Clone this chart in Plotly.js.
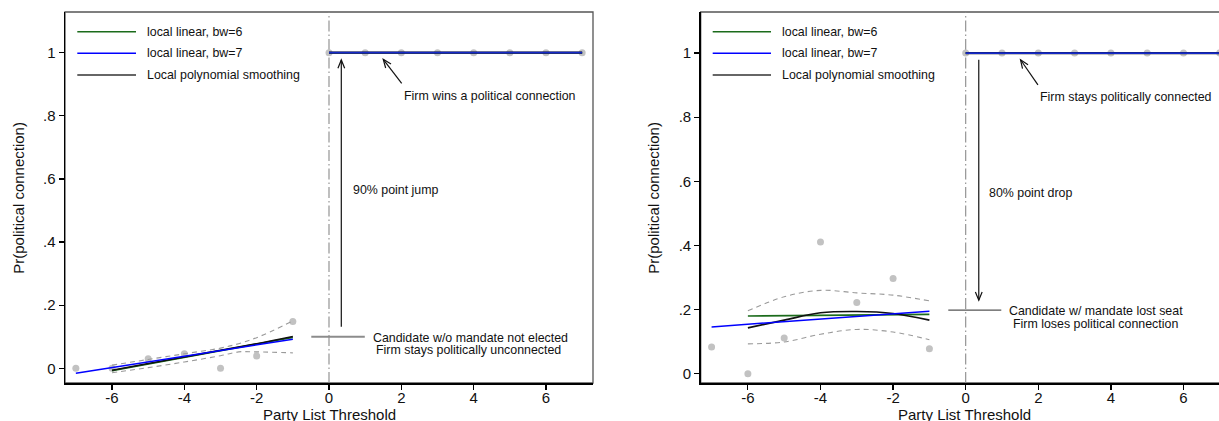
<!DOCTYPE html>
<html>
<head>
<meta charset="utf-8">
<script src="https://cdn.plot.ly/plotly-3.0.1.min.js"></script>
<style>
html,body{margin:0;padding:0;overflow:hidden;background:#fff;}
#chart{width:1240px;height:421px;}
</style>
</head>
<body>
<div id="chart"></div>
<script>
// ---------- data ----------
const xBelow = [-7, -6, -5, -4, -3, -2, -1];
const xAbove = [0, 1, 2, 3, 4, 5, 6, 7];
const xPoly = [-6, -5, -4, -3, -2, -1];
const xCI1 = [-6, -5, -4, -3, -2.5, -2, -1];
const xCI2 = [-6, -5, -4, -3, -2, -1];

// Panel 1: winning a connection
const p1Below = [0, 0, 0.03, 0.046, 0, 0.039, 0.148];
const p1Above = [1, 1, 1, 1, 1, 1, 1, 1];
const p1Bw6X = [-6, -1], p1Bw6Y = [-0.008, 0.098];
const p1Bw7X = [-7, -1], p1Bw7Y = [-0.016, 0.092];
const p1Poly = [-0.006, 0.015, 0.036, 0.057, 0.078, 0.101];
const p1Upper = [0.010, 0.028, 0.046, 0.064, 0.078, 0.097, 0.150];
const p1Lower = [-0.014, 0.002, 0.020, 0.040, 0.052, 0.052, 0.049];
const p1AboveFitX = [0, 7], p1AboveFitY = [1, 1];

// Panel 2: losing a connection
const p2Below = [0.083, 0, 0.111, 0.411, 0.222, 0.297, 0.078];
const p2Above = [1, 1, 1, 1, 1, 1, 1, 1];
const p2Bw6X = [-6, -1], p2Bw6Y = [0.180, 0.185];
const p2Bw7X = [-7, -1], p2Bw7Y = [0.146, 0.195];
const p2Poly = [0.143, 0.167, 0.190, 0.194, 0.188, 0.167];
const p2Upper = [0.196, 0.240, 0.260, 0.252, 0.245, 0.227];
const p2Lower = [0.093, 0.099, 0.123, 0.138, 0.130, 0.106];
const p2AboveFitX = [0, 7], p2AboveFitY = [1, 1];

const legendLabels = ["local linear, bw=6", "local linear, bw=7", "Local polynomial smoothing"];
const yTickVals = [0, 0.2, 0.4, 0.6, 0.8, 1];
const yTickText = ["0", ".2", ".4", ".6", ".8", "1"];
const xTickVals = [-6, -4, -2, 0, 2, 4, 6];
const xTickText = ["-6", "-4", "-2", "0", "2", "4", "6"];
const xTitle = "Party List Threshold";
const yTitle = "Pr(political connection)";

// ---------- styling ----------
const W = 1240, H = 421;
const FONT = "Liberation Sans, Arial, sans-serif";
const GREEN = "#1b6b1b", BLUE = "#0000ff", BLACK = "#111111";
const DOT = "#c2c2c2", CI = "#9a9a9a";
const xRange = [-7.3, 7.3];
const y1Range = [-0.0466, 1.129];
const y2Range = [-0.029, 1.128];
const dom1 = [65 / W, 593 / W];
const dom2 = [700.7 / W, 1230.7 / W];
const yDom = [(H - 383) / H, (H - 12) / H];

function px(xp) { return xp / W; }
function py(yp) { return (H - yp) / H; }

const traces = [];
function panel(ax, below, above, bw6x, bw6y, bw7x, bw7y, poly, ciX, upper, lower, fitX, fitY) {
  const xa = ax === 1 ? "x" : "x2", ya = ax === 1 ? "y" : "y2";
  traces.push({x: xBelow, y: below, xaxis: xa, yaxis: ya, mode: "markers", type: "scatter",
    marker: {color: DOT, size: 7}, hoverinfo: "skip", showlegend: false});
  traces.push({x: xAbove, y: above, xaxis: xa, yaxis: ya, mode: "markers", type: "scatter",
    marker: {color: DOT, size: 7}, hoverinfo: "skip", showlegend: false});
  traces.push({x: ciX, y: upper, xaxis: xa, yaxis: ya, mode: "lines", type: "scatter",
    line: {color: CI, width: 1.1, dash: "5px,4px", shape: "spline"}, showlegend: false});
  traces.push({x: ciX, y: lower, xaxis: xa, yaxis: ya, mode: "lines", type: "scatter",
    line: {color: CI, width: 1.1, dash: "5px,4px", shape: "spline"}, showlegend: false});
  traces.push({x: bw6x, y: bw6y, xaxis: xa, yaxis: ya, mode: "lines", type: "scatter",
    line: {color: GREEN, width: 1.6}, showlegend: false});
  traces.push({x: fitX, y: fitY, xaxis: xa, yaxis: ya, mode: "lines", type: "scatter",
    line: {color: GREEN, width: 1.6}, showlegend: false});
  traces.push({x: xPoly, y: poly, xaxis: xa, yaxis: ya, mode: "lines", type: "scatter",
    line: {color: BLACK, width: 1.6, shape: "spline"}, showlegend: false});
  traces.push({x: fitX, y: fitY, xaxis: xa, yaxis: ya, mode: "lines", type: "scatter",
    line: {color: BLACK, width: 2.2}, showlegend: false});
  traces.push({x: bw7x, y: bw7y, xaxis: xa, yaxis: ya, mode: "lines", type: "scatter",
    line: {color: BLUE, width: 1.5}, showlegend: false});
  traces.push({x: fitX, y: fitY, xaxis: xa, yaxis: ya, mode: "lines", type: "scatter",
    line: {color: "#1428c8", width: 1.8}, showlegend: false});
}
panel(1, p1Below, p1Above, p1Bw6X, p1Bw6Y, p1Bw7X, p1Bw7Y, p1Poly, xCI1, p1Upper, p1Lower, p1AboveFitX, p1AboveFitY);
panel(2, p2Below, p2Above, p2Bw6X, p2Bw6Y, p2Bw7X, p2Bw7Y, p2Poly, xCI2, p2Upper, p2Lower, p2AboveFitX, p2AboveFitY);

// pixel scales for arrowheads
const pxX1 = (dom1[1] - dom1[0]) * W / (xRange[1] - xRange[0]);
const pxX2 = (dom2[1] - dom2[0]) * W / (xRange[1] - xRange[0]);
const pxY1 = (yDom[1] - yDom[0]) * H / (y1Range[1] - y1Range[0]);
const pxY2 = (yDom[1] - yDom[0]) * H / (y2Range[1] - y2Range[0]);

const shapes = [];
function arrow(xa, ya, sx, sy, x0, y0, x1, y1) {
  shapes.push({type: "line", xref: xa, yref: ya, x0: x0, y0: y0, x1: x1, y1: y1,
    line: {color: BLACK, width: 1.2}});
  const dx = (x1 - x0) * sx, dy = -(y1 - y0) * sy;
  const L = Math.hypot(dx, dy), ux = dx / L, uy = dy / L;
  const len = 9, ang = 22 * Math.PI / 180;
  const pts = [ang, -ang].map(a => {
    const rx = -(ux * Math.cos(a) - uy * Math.sin(a)) * len;
    const ry = -(ux * Math.sin(a) + uy * Math.cos(a)) * len;
    return [x1 + rx / sx, y1 - ry / sy];
  });
  shapes.push({type: "path", xref: xa, yref: ya,
    path: `M ${pts[0][0]},${pts[0][1]} L ${x1},${y1} L ${pts[1][0]},${pts[1][1]}`,
    line: {color: BLACK, width: 1.2}});
}

[["x", "y"], ["x2", "y2"]].forEach(([xa, ya]) => {
  shapes.push({type: "rect", xref: xa + " domain", yref: ya + " domain", x0: 0, x1: 1, y0: 0, y1: 1,
    line: {color: "#555", width: 1.3}, layer: "below"});
  shapes.push({type: "line", xref: xa, yref: ya + " domain", x0: 0, x1: 0, y0: 0, y1: 1,
    line: {color: "#8a8a8a", width: 1.1, dash: "11px,3px,1.5px,3px"}, layer: "below"});
});

arrow("x", "y", pxX1, pxY1, 0.34, 0.132, 0.34, 0.977);
arrow("x", "y", pxX1, pxY1, 2.01, 0.903, 1.5, 0.979);
shapes.push({type: "line", xref: "x", yref: "y", x0: -0.49, x1: 0.99, y0: 0.1, y1: 0.1,
  line: {color: "#8c8c8c", width: 2}});
arrow("x2", "y2", pxX2, pxY2, 0.36, 0.979, 0.36, 0.229);
arrow("x2", "y2", pxX2, pxY2, 1.99, 0.901, 1.51, 0.979);
shapes.push({type: "line", xref: "x2", yref: "y2", x0: -0.48, x1: 0.98, y0: 0.198, y1: 0.198,
  line: {color: "#555", width: 1.2}});

const legColors = [GREEN, BLUE, "#333"];
const legRows = [31.7, 53.3, 75];
const annotations = [];
[[77.3, 136, 145], [712.7, 771, 780]].forEach(([l0, l1, tx]) => {
  legRows.forEach((r, i) => {
    shapes.push({type: "line", xref: "paper", yref: "paper", x0: px(l0), x1: px(l1), y0: py(r), y1: py(r),
      line: {color: legColors[i], width: 1.6}});
    annotations.push({xref: "paper", yref: "paper", x: px(tx), y: py(r), text: legendLabels[i],
      showarrow: false, xanchor: "left", yanchor: "middle", font: {size: 12.4, color: "#111"}});
  });
});

function txt(xa, ya, x, y, t, anchor) {
  annotations.push({xref: xa, yref: ya, x: x, y: y, text: t, showarrow: false,
    xanchor: anchor, yanchor: "middle", font: {size: 12.4, color: "#111"}});
}
txt("x", "y", 0.61, 0.565, "90% point jump", "left");
txt("x", "y", 2.01, 0.863, "Firm wins a political connection", "left");
txt("x", "y", 3.9, 0.095, "Candidate w/o mandate not elected", "center");
txt("x", "y", 3.87, 0.058, "Firm stays politically unconnected", "center");
txt("x2", "y2", 0.59, 0.563, "80% point drop", "left");
txt("x2", "y2", 2.0, 0.863, "Firm stays politically connected", "left");
txt("x2", "y2", 3.59, 0.195, "Candidate w/ mandate lost seat", "center");
txt("x2", "y2", 3.58, 0.154, "Firm loses political connection", "center");

[18.3, 653.3].forEach(xp => {
  annotations.push({xref: "paper", yref: "paper", x: px(xp), y: py(197.5), text: yTitle, textangle: -90,
    showarrow: false, xanchor: "center", yanchor: "middle", font: {size: 15, color: "#111"}});
});
[329, 964.5].forEach(xp => {
  annotations.push({xref: "paper", yref: "paper", x: px(xp), y: py(404), text: xTitle,
    showarrow: false, xanchor: "center", yanchor: "top", font: {size: 15, color: "#111"}});
});

function xaxis(dom, anchor) {
  return {domain: dom, anchor: anchor, range: xRange, showgrid: false, zeroline: false,
    showline: true, linecolor: "#000", linewidth: 1.5, mirror: false,
    ticks: "outside", ticklen: 5, tickwidth: 1.2, tickcolor: "#000", ticklabelstandoff: -5,
    tickvals: xTickVals, ticktext: xTickText, tickfont: {size: 15, color: "#111"}};
}
function yaxis(range, anchor) {
  return {domain: yDom, anchor: anchor, range: range, showgrid: false, zeroline: false,
    showline: true, linecolor: "#000", linewidth: 1.5, mirror: false,
    ticks: "outside", ticklen: 5, tickwidth: 1.2, tickcolor: "#000",
    tickvals: yTickVals, ticktext: yTickText, tickfont: {size: 15, color: "#111"}};
}

const layout = {
  width: W, height: H, margin: {l: 0, r: 0, t: 0, b: 0},
  paper_bgcolor: "#fff", plot_bgcolor: "#fff",
  font: {family: FONT, color: "#111"},
  showlegend: false,
  xaxis: xaxis(dom1, "y"), yaxis: yaxis(y1Range, "x"),
  xaxis2: xaxis(dom2, "y2"), yaxis2: yaxis(y2Range, "x2"),
  shapes: shapes, annotations: annotations
};

Plotly.newPlot("chart", traces, layout, {displayModeBar: false, staticPlot: true});
</script>
</body>
</html>
